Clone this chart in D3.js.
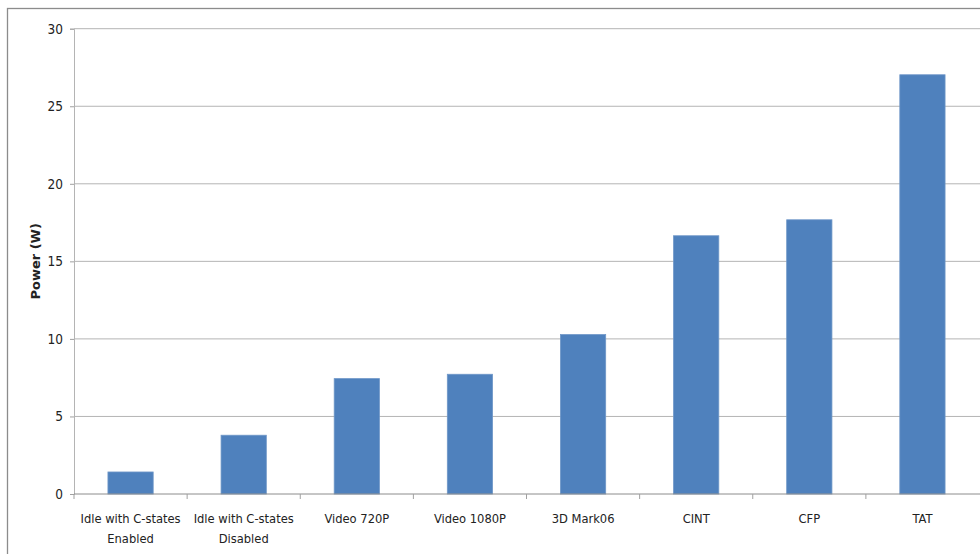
<!DOCTYPE html>
<html>
<head>
<meta charset="utf-8">
<script src="https://cdn.jsdelivr.net/npm/d3@7"></script>
<style>
  body { margin: 0; background: #fff; }
  svg text { font-family: "Liberation Sans Narrow", "DejaVu Sans Condensed", "Open Sans", sans-serif; fill: #222; }
</style>
</head>
<body>
<div id="bar-chart"></div>
<script>
var categories = ["Idle with C-states\nEnabled", "Idle with C-states\nDisabled", "Video 720P", "Video 1080P", "3D Mark06", "CINT", "CFP", "TAT"];
var power = [1.42, 3.79, 7.44, 7.72, 10.28, 16.65, 17.68, 27.03];
var yTicks = [0, 5, 10, 15, 20, 25, 30];

function draw_bars(){
    var margin = {top: 28.7, left: 74},
        width = 905, height = 465.3;

    var svg = d3.select("#bar-chart")
        .append("svg")
            .attr("width", 980)
            .attr("height", 554);

    // chart frame (runs off the right and bottom of the picture)
    svg.append("rect")
        .attr("x", 7.5).attr("y", 8.5)
        .attr("width", 1000).attr("height", 600)
        .attr("fill", "none")
        .attr("stroke", "#8c8c8c")
        .attr("stroke-width", 1.3);

    var g = svg.append("g")
        .attr("transform", "translate(" + margin.left + "," + margin.top + ")");

    var x = d3.scaleBand()
        .domain(categories)
        .range([0, width])
        .paddingInner(0.6)
        .paddingOuter(0.3);

    var y = d3.scaleLinear()
        .domain([0, 30])
        .range([height, 0]);

    // gridlines
    g.append("g")
        .selectAll("line")
        .data(yTicks.filter(d => d > 0))
        .join("line")
            .attr("x1", 0).attr("x2", width + 10)
            .attr("y1", d => y(d)).attr("y2", d => y(d))
            .attr("stroke", "#b4b4b4")
            .attr("stroke-width", 1);

    g.selectAll("rect.bar")
        .data(power)
        .join("rect")
            .attr("class", "bar")
            .attr("x", (d, i) => x(categories[i]))
            .attr("y", d => y(d))
            .attr("width", x.bandwidth())
            .attr("height", d => height - y(d))
            .attr("fill", "#4f81bd")
            .attr("stroke", "#6f97c8")
            .attr("stroke-width", 0.8);

    // y axis
    var yAxis = g.append("g")
        .call(d3.axisLeft(y).tickValues(yTicks).tickSize(4).tickPadding(7));
    yAxis.select(".domain").attr("stroke", "#b4b4b4");
    yAxis.selectAll(".tick line").attr("stroke", "#a0a0a0");
    yAxis.selectAll("text").style("font-size", "13.5px").attr("fill", "#222");

    // x axis with ticks between categories
    var xAxis = g.append("g")
        .attr("transform", "translate(0," + height + ")");
    xAxis.append("line")
        .attr("x1", 0).attr("x2", width + 10)
        .attr("stroke", "#8c8c8c");
    xAxis.selectAll("line.sep")
        .data(categories)
        .join("line")
            .attr("class", "sep")
            .attr("x1", d => x(d) - x.step() * 0.3)
            .attr("x2", d => x(d) - x.step() * 0.3)
            .attr("y1", 0).attr("y2", 5)
            .attr("stroke", "#a0a0a0");

    var labels = xAxis.selectAll("text.cat")
        .data(categories)
        .join("text")
            .attr("class", "cat")
            .attr("text-anchor", "middle")
            .attr("transform", d => "translate(" + (x(d) + x.bandwidth() / 2) + ",29)")
            .style("font-size", "12.8px");
    labels.selectAll("tspan")
        .data(d => d.split("\n"))
        .join("tspan")
            .attr("x", 0)
            .attr("dy", (d, i) => i ? 20 : 0)
            .text(d => d);

    svg.append("text")
        .attr("transform", "translate(40," + (margin.top + height / 2) + ") rotate(-90)")
        .attr("text-anchor", "middle")
        .style("font-size", "13px")
        .style("font-weight", "bold")
        .style("font-family", "'DejaVu Sans', sans-serif")
        .text("Power (W)");
}

draw_bars();
</script>
</body>
</html>
